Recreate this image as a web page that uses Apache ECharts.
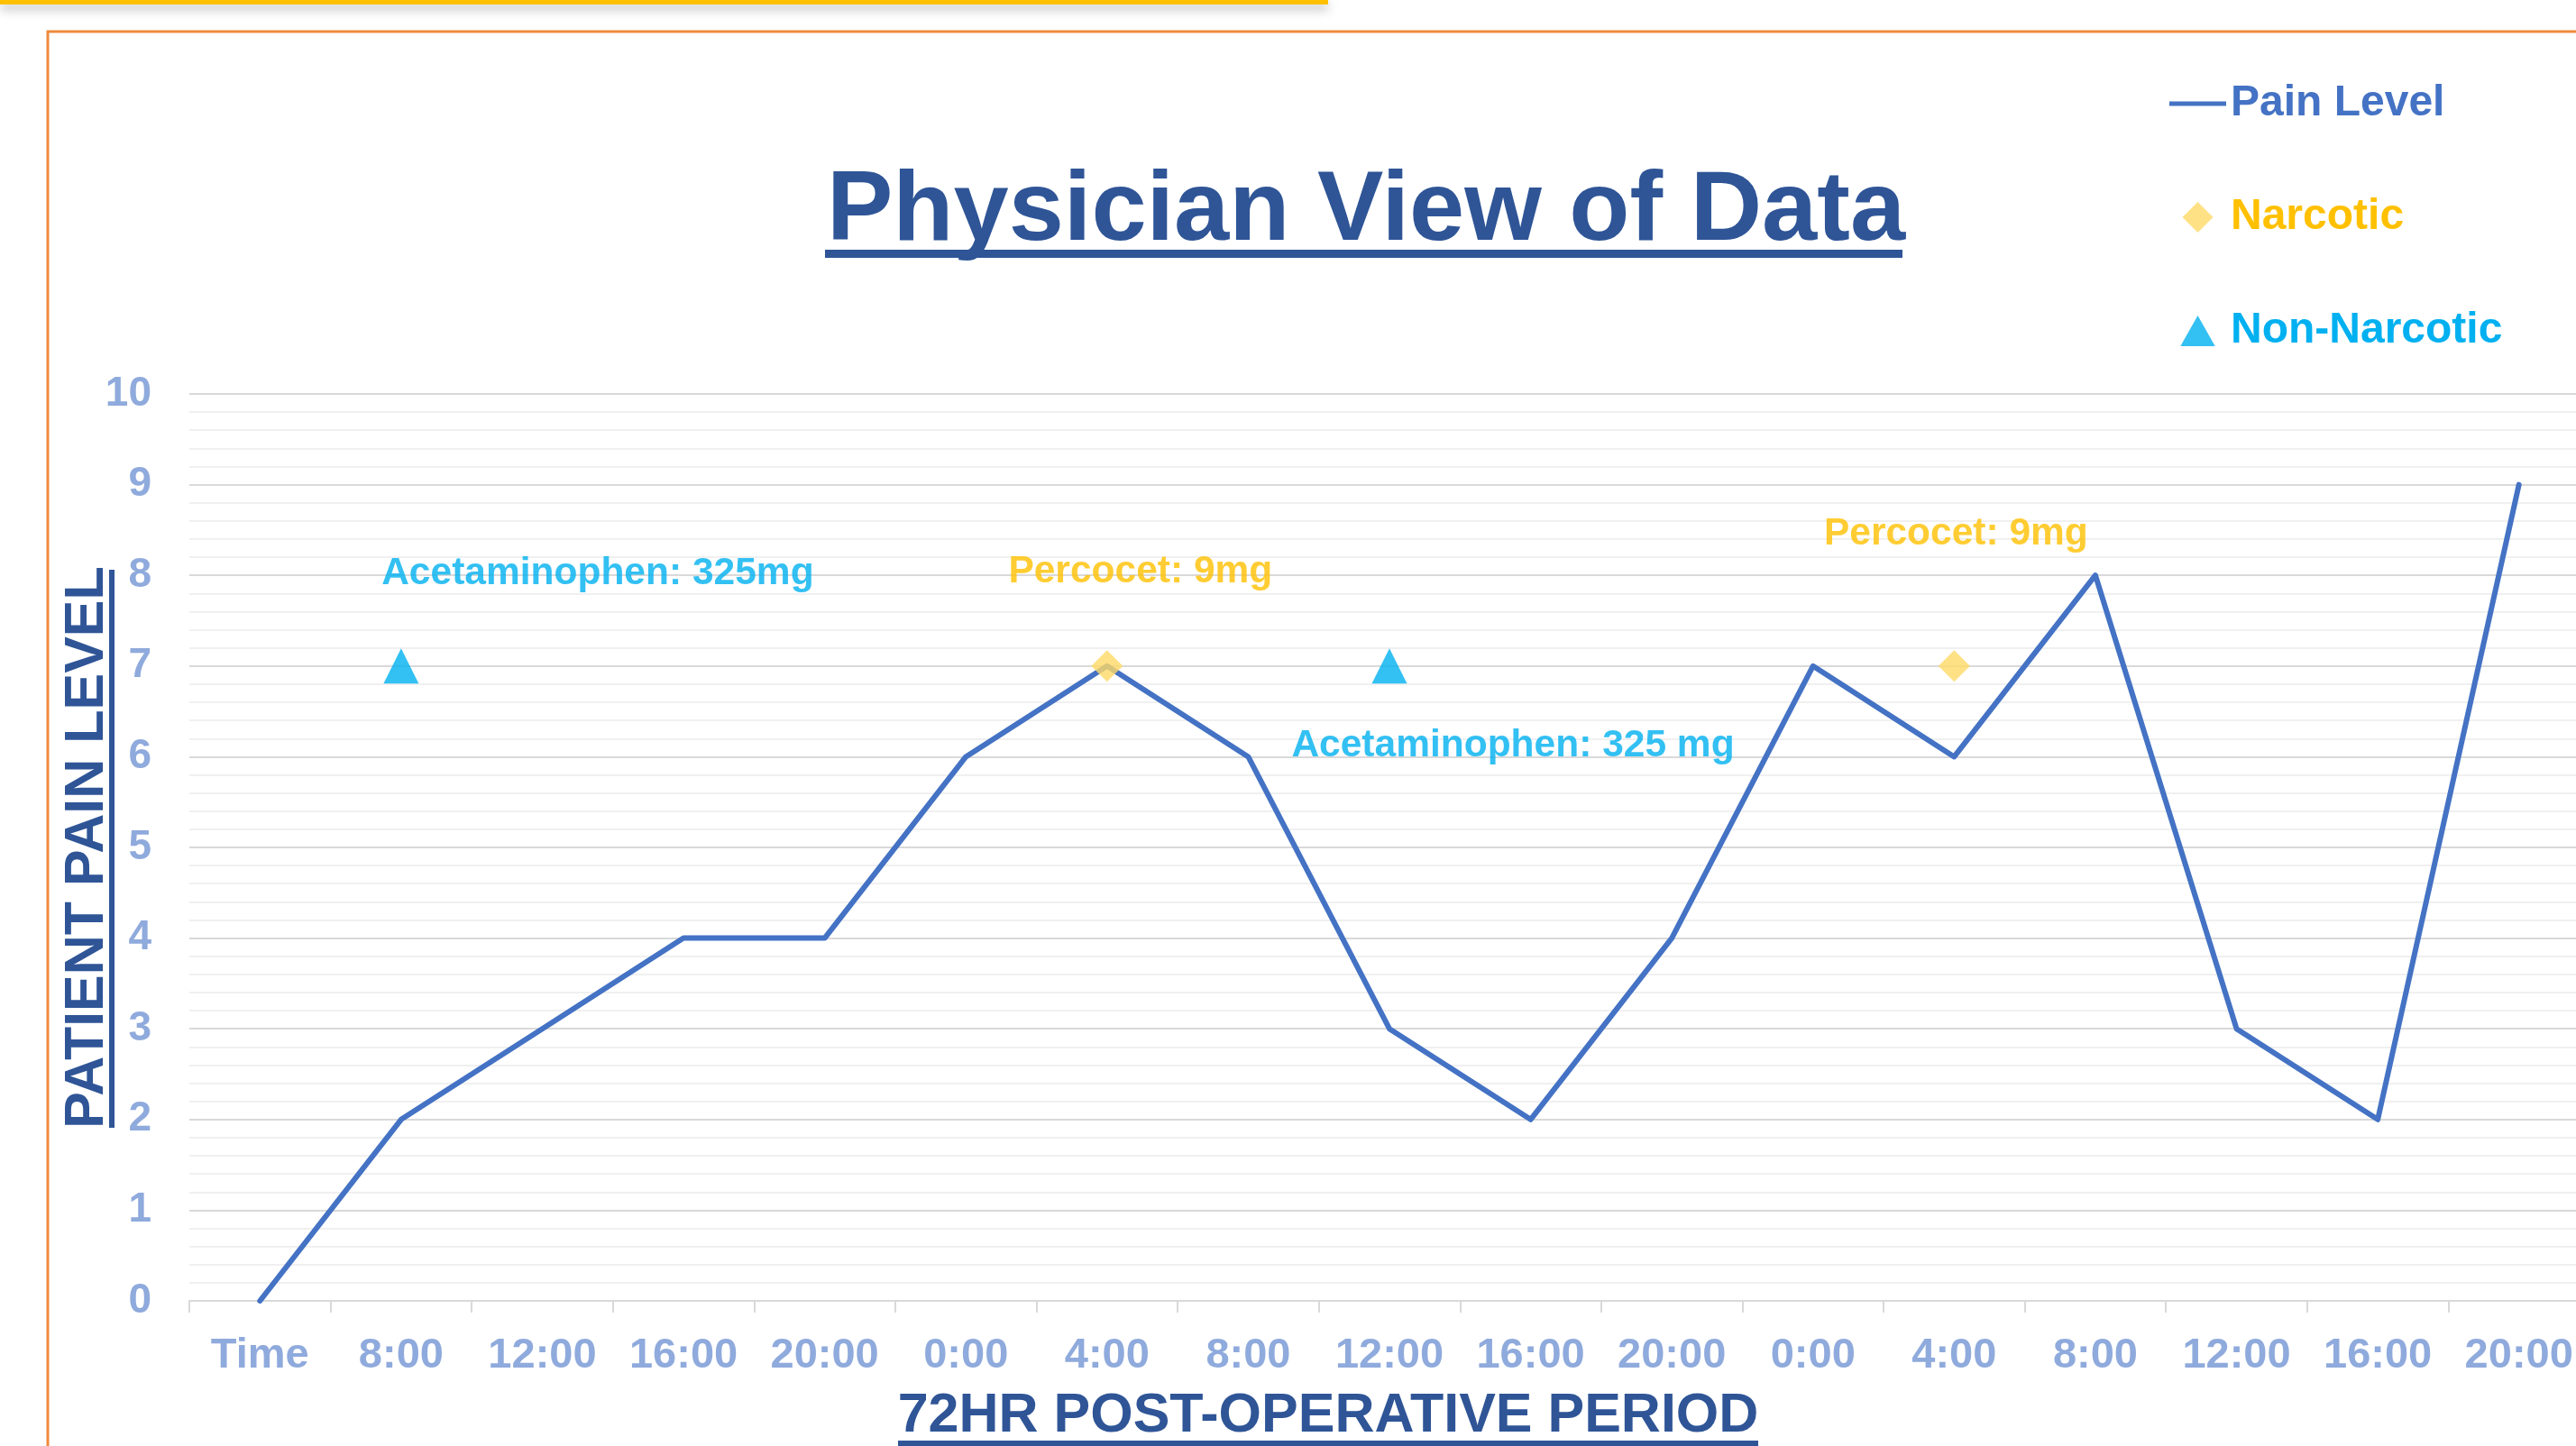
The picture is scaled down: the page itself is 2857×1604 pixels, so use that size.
<!DOCTYPE html>
<html lang="en">
<head>
    <meta charset="UTF-8">
    <title>Physician View of Data</title>
    <style>
        html, body {
            margin: 0;
            padding: 0;
            overflow: hidden;
            background: #fff;
        }
        /* a bit wider than the window: the last slot runs past the right edge */
        #main {
            width: 2880px;
            height: 1604px;
        }
    </style>
    <script src="https://cdn.jsdelivr.net/npm/echarts@6/dist/echarts.min.js"></script>
</head>
<body>
<div id="main"></div>
<script>
    // time slots over the 72 hours
    const timeSlots = ['Time', '8:00', '12:00', '16:00', '20:00', '0:00', '4:00', '8:00', '12:00',
        '16:00', '20:00', '0:00', '4:00', '8:00', '12:00', '16:00', '20:00'];
    const painLevel = [0, 2, 3, 4, 4, 6, 7, 6, 3, 2, 4, 7, 6, 8, 3, 2, 9];
    // doses, drawn at level 7
    const narcotic = [null, null, null, null, null, null, 7, null, null, null, null, null, 7, null, null, null, null];
    const narcoticNote = [null, null, null, null, null, null, 'Percocet: 9mg', null, null, null, null, null, 'Percocet: 9mg', null, null, null, null];
    const nonNarcotic = [null, 7, null, null, null, null, null, null, 7, null, null, null, null, null, null, null, null];
    const nonNarcoticNote = [null, 'Acetaminophen: 325mg', null, null, null, null, null, null, 'Acetaminophen: 325 mg', null, null, null, null, null, null, null, null];
    const yTicks = [0, 10, 1];

    // where each note sits relative to its marker (px)
    const noteOffset = {1: [218, -103], 6: [37, -105], 8: [137, 88], 12: [2, -147]};

    const FONT = '"Liberation Sans", Arial, Helvetica, sans-serif';
    const DARK = '#2F5597';
    const BLUE = '#4472C4';
    const GOLD = '#FFC000';
    const CYAN = '#00B0F0';

    function doses(values, notes, color) {
        return values.map((v, i) => {
            if (v === null) return null;
            return {
                value: v,
                label: {
                    show: true,
                    formatter: notes[i],
                    position: 'inside',
                    align: 'center',
                    verticalAlign: 'middle',
                    offset: noteOffset[i],
                    color: color,
                    fontSize: 42.5,
                    fontWeight: 'bold',
                    fontFamily: FONT
                }
            };
        });
    }

    let chart = echarts.init(document.getElementById('main'));
    let option = {
        backgroundColor: '#fff',
        animation: false,
        title: {
            text: 'Physician View of Data',
            left: 1510,
            top: 176,
            textAlign: 'center',
            textStyle: {
                color: DARK,
                fontSize: 110,
                fontWeight: 'bold',
                fontFamily: FONT
            }
        },
        legend: {
            orient: 'vertical',
            left: 2401,
            top: 86,
            itemWidth: 63,
            itemHeight: 34,
            itemGap: 78,
            selectedMode: false,
            textStyle: {fontSize: 48, fontWeight: 'bold', fontFamily: FONT},
            data: [
                {name: 'Pain Level', icon: 'path://M0,0H63V5H0Z', textStyle: {color: BLUE}},
                {name: 'Narcotic', icon: 'path://M13,0L26,13L13,26L0,13Z', textStyle: {color: GOLD}},
                {name: 'Non-Narcotic', icon: 'path://M13,0L26,23L0,23Z', textStyle: {color: CYAN}}
            ]
        },
        grid: {
            left: 210,
            right: 8,
            top: 437,
            bottom: 161,
            outerBoundsMode: 'none'
        },
        xAxis: {
            type: 'category',
            data: timeSlots,
            boundaryGap: true,
            name: '72HR POST-OPERATIVE PERIOD',
            nameLocation: 'middle',
            nameGap: 98,
            nameMoveOverlap: false,
            nameTextStyle: {
                color: DARK,
                fontSize: 61,
                fontWeight: 'bold',
                fontFamily: FONT,
                padding: [0, 136, 0, 0]
            },
            axisLine: {lineStyle: {color: '#D9D9D9', width: 2}},
            axisTick: {show: true, length: 13, lineStyle: {color: '#D9D9D9', width: 2}},
            axisLabel: {
                interval: 0,
                margin: 38,
                color: '#8FAADC',
                fontSize: 47,
                fontWeight: 'bold',
                fontFamily: FONT
            }
        },
        yAxis: {
            type: 'value',
            min: yTicks[0],
            max: yTicks[1],
            interval: yTicks[2],
            name: 'PATIENT PAIN LEVEL',
            nameLocation: 'middle',
            nameGap: 82,
            nameMoveOverlap: false,
            nameTextStyle: {
                color: DARK,
                fontSize: 61,
                fontWeight: 'bold',
                fontFamily: FONT
            },
            axisLine: {show: false},
            axisTick: {show: false},
            axisLabel: {
                margin: 42,
                color: '#8FAADC',
                fontSize: 46,
                fontWeight: 'bold',
                fontFamily: FONT
            },
            splitLine: {lineStyle: {color: '#D9D9D9', width: 2}},
            minorTick: {show: false, splitNumber: 5},
            minorSplitLine: {show: true, lineStyle: {color: '#F0F0F0', width: 2}}
        },
        series: [
            {
                name: 'Pain Level',
                type: 'line',
                data: painLevel,
                symbol: 'none',
                color: BLUE,
                lineStyle: {width: 6, color: BLUE, cap: 'round', join: 'round'},
                z: 3
            },
            {
                name: 'Narcotic',
                type: 'scatter',
                data: doses(narcotic, narcoticNote, GOLD),
                symbol: 'diamond',
                symbolSize: 35,
                itemStyle: {color: '#FFD966'},
                z: 4
            },
            {
                name: 'Non-Narcotic',
                type: 'scatter',
                data: doses(nonNarcotic, nonNarcoticNote, CYAN),
                symbol: 'triangle',
                symbolSize: 39,
                itemStyle: {color: CYAN},
                z: 4
            }
        ],
        graphic: [
            // slide decoration: yellow bar on top, orange frame
            {
                type: 'rect', z: 0, silent: true,
                shape: {x: 0, y: 0, width: 1473, height: 5},
                style: {fill: GOLD, shadowBlur: 12, shadowOffsetY: 5, shadowColor: 'rgba(0,0,0,0.35)'}
            },
            {
                type: 'rect', z: 0, silent: true,
                shape: {x: 53, y: 35, width: 3000, height: 2000},
                style: {fill: null, stroke: '#F08A3C', lineWidth: 3}
            },
            // underlines of the titles
            {type: 'rect', silent: true, shape: {x: 915, y: 277, width: 1195, height: 9}, style: {fill: DARK}},
            {type: 'rect', silent: true, shape: {x: 121, y: 632, width: 6, height: 619}, style: {fill: DARK}},
            {type: 'rect', silent: true, shape: {x: 996, y: 1598, width: 954, height: 6}, style: {fill: DARK}}
        ]
    };
    chart.setOption(option);
</script>
</body>
</html>
